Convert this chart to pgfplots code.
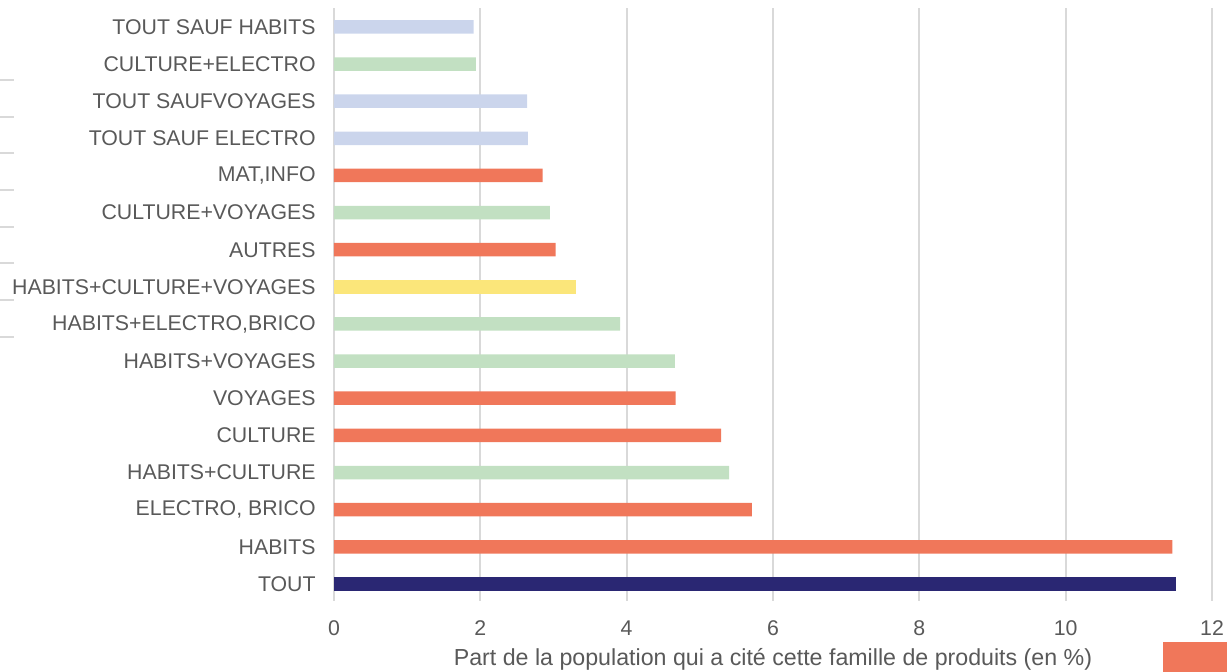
\documentclass[border=0pt]{standalone}
\usepackage{pgfplots}
\pgfplotsset{compat=1.18}
\usepackage{fontspec}
\setmainfont{Liberation Sans}
\definecolor{orng}{HTML}{F0775A}
\definecolor{grn}{HTML}{C2E0C2}
\definecolor{blu}{HTML}{CBD5EC}
\definecolor{yel}{HTML}{FBE67A}
\definecolor{navy}{HTML}{2A2773}
\definecolor{txt}{HTML}{595959}
\definecolor{grd}{HTML}{D9D9D9}
\begin{document}
\begin{tikzpicture}
\useasboundingbox (0,0) rectangle (613.5pt,336pt);
\begin{axis}[
  at={(167pt,35.5pt)}, anchor=south west,
  scale only axis, width=439pt, height=296.5pt,
  xbar, bar width=6.75pt, bar shift=0pt,
  xmin=0, xmax=12, ymin=-0.46, ymax=15.51,
  xtick={0,2,4,6,8,10,12},
  ytick={0,...,15},
  yticklabels={TOUT,HABITS,{ELECTRO, BRICO},HABITS+CULTURE,CULTURE,VOYAGES,HABITS+VOYAGES,{HABITS+ELECTRO,BRICO},HABITS+CULTURE+VOYAGES,AUTRES,CULTURE+VOYAGES,{MAT,INFO},TOUT SAUF ELECTRO,TOUT SAUFVOYAGES,CULTURE+ELECTRO,TOUT SAUF HABITS},
  major tick length=0pt,
  axis line style={draw=none},
  xmajorgrids, grid style={grd, line width=0.9pt},
  tick label style={font=\fontsize{10.65}{12}\selectfont, text=txt, inner sep=0pt},
  yticklabel shift=9pt,
  xticklabel shift=9.75pt,
  /pgf/number format/assume math mode=true,
  xlabel={Part de la population qui a cité cette famille de produits (en \%)},
  xlabel style={font=\fontsize{11.6}{13}\selectfont, text=txt, at={(rel axis cs:0.5,0)}, anchor=base, yshift=-32.5pt, inner sep=0pt},
]
\addplot[fill=navy, draw=none] coordinates {(11.51,0)};
\addplot[fill=orng, draw=none] coordinates {(11.46,1) (5.71,2) (5.29,4) (4.67,5) (3.03,9) (2.85,11)};
\addplot[fill=grn, draw=none] coordinates {(5.40,3) (4.66,6) (3.91,7) (2.95,10) (1.94,14)};
\addplot[fill=yel, draw=none] coordinates {(3.31,8)};
\addplot[fill=blu, draw=none] coordinates {(2.65,12) (2.64,13) (1.91,15)};
\end{axis}
\fill[orng] (581.5pt,0) rectangle (613.5pt,15pt);
\foreach \yy in {296,277.5,259.5,241,222.5,204.5,186,167.5}
  \draw[grd, line width=0.6pt] (0,\yy pt) -- (7pt,\yy pt);
\end{tikzpicture}
\end{document}
